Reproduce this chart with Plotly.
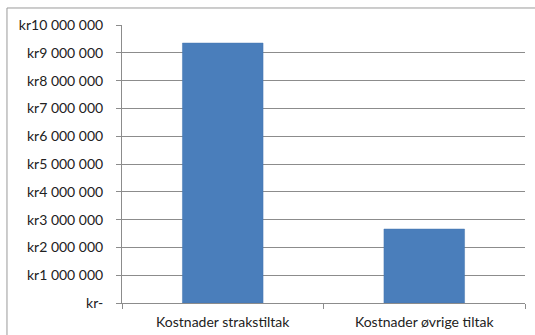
import plotly.graph_objects as go

categories = ["Kostnader strakstiltak", "Kostnader øvrige tiltak"]
costs = [9350000, 2660000]
tick_values = [0, 1000000, 2000000, 3000000, 4000000, 5000000,
               6000000, 7000000, 8000000, 9000000, 10000000]
tick_labels = ["kr-", "kr1 000 000", "kr2 000 000", "kr3 000 000", "kr4 000 000",
               "kr5 000 000", "kr6 000 000", "kr7 000 000", "kr8 000 000",
               "kr9 000 000", "kr10 000 000"]

font = dict(family="Lato, Open Sans, sans-serif", size=14, color="#222222")

fig = go.Figure(
    go.Bar(
        x=categories,
        y=costs,
        marker=dict(color="#4A7EBB", line=dict(color="#4676B0", width=0.5)),
        width=0.4,
    )
)

fig.update_layout(
    width=535,
    height=335,
    margin=dict(l=122, r=10, t=25, b=32),
    paper_bgcolor="white",
    plot_bgcolor="white",
    font=font,
    showlegend=False,
    shapes=[
        # chart frame
        dict(type="rect", xref="paper", yref="paper",
             x0=-0.2854, x1=1.2, y0=-0.3, y1=1.0612,
             line=dict(color="#9a9a9a", width=1), fillcolor="rgba(0,0,0,0)",
             layer="below"),
    ],
)

fig.update_yaxes(
    range=[0, 10000000],
    tickvals=tick_values,
    ticktext=tick_labels,
    showgrid=True,
    gridcolor="#8c8c8c",
    gridwidth=1,
    showline=True,
    linecolor="#8c8c8c",
    ticks="outside",
    ticklen=5,
    tickcolor="#8c8c8c",
    ticklabelstandoff=10,
    zeroline=False,
    automargin=False,
    tickfont=font,
)

fig.update_xaxes(
    showline=True,
    linecolor="#8c8c8c",
    ticks="outside",
    tickson="boundaries",
    ticklen=5,
    tickcolor="#8c8c8c",
    ticklabelstandoff=6,
    showgrid=False,
    automargin=False,
    tickfont=font,
)

fig.write_html("out.html")
